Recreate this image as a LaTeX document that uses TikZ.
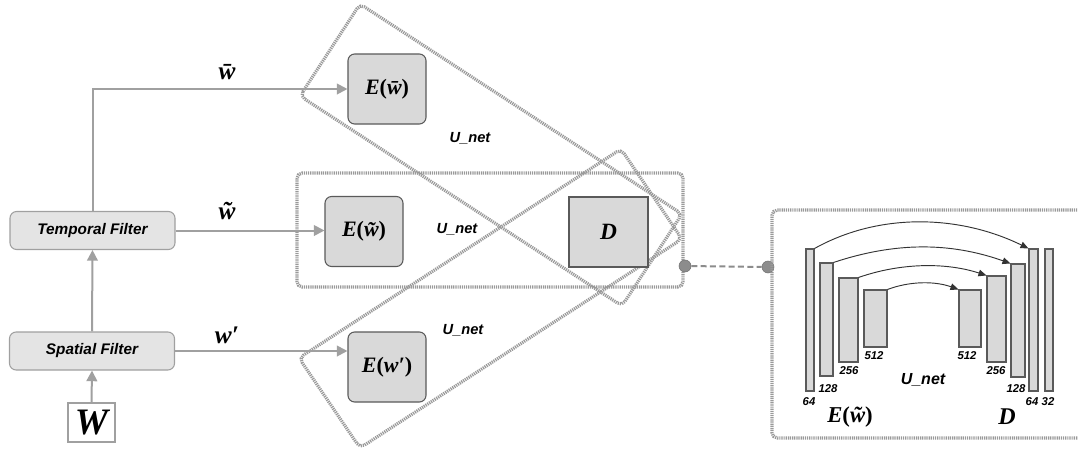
\documentclass[tikz,border=0pt]{standalone}
\usepackage{fontspec}
\setsansfont{Liberation Sans}
\newfontfamily\symfont{Liberation Serif}
\usetikzlibrary{arrows.meta}
\definecolor{linegray}{HTML}{A0A0A0}
\definecolor{dotgray}{HTML}{999999}
\definecolor{boxfill}{HTML}{D9D9D9}
\definecolor{filterfill}{HTML}{E4E4E4}
\definecolor{edgegray}{HTML}{5A5A5A}
\definecolor{dotfill}{HTML}{8C8C8C}
\newcommand{\sym}[1]{{\symfont\bfseries\itshape #1}}
\newcommand{\up}[1]{{\upshape #1}}
\tikzset{
  filterbox/.style={draw=linegray, line width=0.8pt, fill=filterfill, rounded corners=5pt,
    minimum width=123.75pt, minimum height=28.5pt, inner sep=0pt,
    font=\sffamily\bfseries\itshape\fontsize{11.5}{13}\selectfont},
  wbox/.style={draw=linegray, line width=1.6pt, fill=white, minimum width=35.25pt,
    minimum height=29.25pt, inner sep=0pt},
  ebox/.style={draw=edgegray, line width=0.8pt, fill=boxfill, rounded corners=5pt,
    minimum width=58.5pt, minimum height=52.5pt, inner sep=0pt, font=\fontsize{16.5}{18}\selectfont},
  dbox/.style={draw=edgegray, line width=0.8pt, fill=boxfill,
    minimum width=59.25pt, minimum height=52.5pt, inner sep=0pt, font=\fontsize{17.5}{19}\selectfont},
  arr/.style={draw=linegray, line width=1.5pt, -{Triangle[length=8pt,width=8pt]}},
  sig/.style={inner sep=0pt, font=\fontsize{19}{21}\selectfont},
  unetlbl/.style={inner sep=0pt, font=\sffamily\bfseries\itshape\fontsize{11}{13}\selectfont},
  numlbl/.style={inner sep=0pt, font=\sffamily\bfseries\itshape\fontsize{8.5}{10}\selectfont},
  dotbox/.style={draw=dotgray, line width=2.4pt, dash pattern=on 0.9pt off 0.7pt, rounded corners=4pt},
  bar/.style={draw=edgegray, line width=0.8pt, fill=boxfill, inner sep=0pt},
  skiparr/.style={draw=black!80, line width=0.7pt, -{Triangle[length=6pt,width=5pt]}},
  joint/.style={circle, fill=dotfill, draw=dotfill!80!black, line width=0.4pt, minimum size=9pt, inner sep=0pt},
  link/.style={draw=dotfill, line width=1.5pt, dash pattern=on 4.5pt off 2.5pt}
}
\begin{document}
\begin{tikzpicture}[x=0.75pt,y=-0.75pt]
\clip (0,0) rectangle (1078,457);
\fill[white] (0,0) rectangle (1078,457);

% dotted groups
\draw[dotbox] (297,173) rectangle (683,287);
\draw[dotbox] (300,96) -- (360,4) -- (682,214) -- (622,306) -- cycle;
\draw[dotbox] (299,358) -- (360,448) -- (682,239) -- (621,149) -- cycle;

% left column
\node[filterbox] (tf) at (92.5,230.5) {Temporal Filter};
\node[filterbox] (sf) at (92,351) {Spatial Filter};
\node[wbox] (W) at (91.5,422.5) {\fontsize{28}{30}\selectfont\sym{W}};

% encoder / decoder boxes
\node[ebox] (ebar) at (387,89) {\sym{E\up{(}w̄\up{)}}};
\node[ebox] (etil) at (364,231.5) {\sym{E\up{(}w̃\up{)}}};
\node[ebox] (epr) at (387,367) {\sym{E\up{(}w′\up{)}}};
\node[dbox] (D) at (608.5,232) {\sym{D}};

% connectors
\draw[arr] (W.north) -- (sf.south);
\draw[arr] (sf.north) -- (tf.south);
\draw[arr] (tf.north) |- (ebar.west);
\draw[arr] (tf.east) -- (tf.east -| etil.west);
\draw[arr] (sf.east) -- (sf.east -| epr.west);

\node[sig] (lbar) at (227,72) {\sym{w̄}};
\node[sig] (ltil) at (227,211) {\sym{w̃}};
\node[sig] (lpr) at (227,335) {\sym{w′}};

\node[unetlbl] (u1) at (470,138) {U\_net};
\node[unetlbl] (u2) at (457,229) {U\_net};
\node[unetlbl] (u3) at (463,330) {U\_net};

% link to detail panel
\node[joint] (j1) at (685,266) {};
\node[joint] (j2) at (768,267) {};
\draw[link] (j1) -- (j2);
\draw[dotbox] (1090,210) -- (772,210) -- (772,438) -- (1090,438);

% U-net detail
\node[bar, minimum width=6pt, minimum height=106.5pt] (b1) at (810,320) {};
\node[bar, minimum width=9.75pt, minimum height=84.75pt] (b2) at (826.5,319.5) {};
\node[bar, minimum width=14.25pt, minimum height=63pt] (b3) at (848.5,320) {};
\node[bar, minimum width=17.25pt, minimum height=42.75pt] (b4) at (875.5,318.5) {};
\node[bar, minimum width=16.5pt, minimum height=42.75pt] (b5) at (970,318.5) {};
\node[bar, minimum width=14.25pt, minimum height=64.5pt] (b6) at (996.5,319) {};
\node[bar, minimum width=10.5pt, minimum height=84.75pt] (b7) at (1018,320.5) {};
\node[bar, minimum width=6.75pt, minimum height=106.5pt] (b8) at (1033.5,320) {};
\node[bar, minimum width=6pt, minimum height=106.5pt] (b9) at (1049,320) {};

\draw[skiparr] (b1.north east) .. controls (880,212) and (960,215) .. (b8.north west);
\draw[skiparr] (b2.north east) .. controls (895,242) and (950,242) .. (b7.north west);
\draw[skiparr] (b3.north east) .. controls (900,263) and (945,262) .. (b6.north west);
\draw[skiparr] (b4.north east) .. controls (910,281) and (935,281) .. (b5.north west);

\node[numlbl] (n1) at (809,402) {64};
\node[numlbl] (n2) at (828,389) {128};
\node[numlbl] (n3) at (849,371) {256};
\node[numlbl] (n4) at (874,356) {512};
\node[numlbl] (n5) at (967,356) {512};
\node[numlbl] (n6) at (996,371) {256};
\node[numlbl] (n7) at (1016,389) {128};
\node[numlbl] (n8) at (1032,402) {64};
\node[numlbl] (n9) at (1048,402) {32};
\node[unetlbl, font=\sffamily\bfseries\itshape\fontsize{12}{14}\selectfont] (u4) at (923,380) {U\_net};
\node[inner sep=0pt, font=\fontsize{17}{19}\selectfont] (enc) at (850,417) {\sym{E\up{(}w̃\up{)}}};
\node[inner sep=0pt, font=\fontsize{18}{20}\selectfont] (dec) at (1007,417) {\sym{D}};
\end{tikzpicture}
\end{document}
